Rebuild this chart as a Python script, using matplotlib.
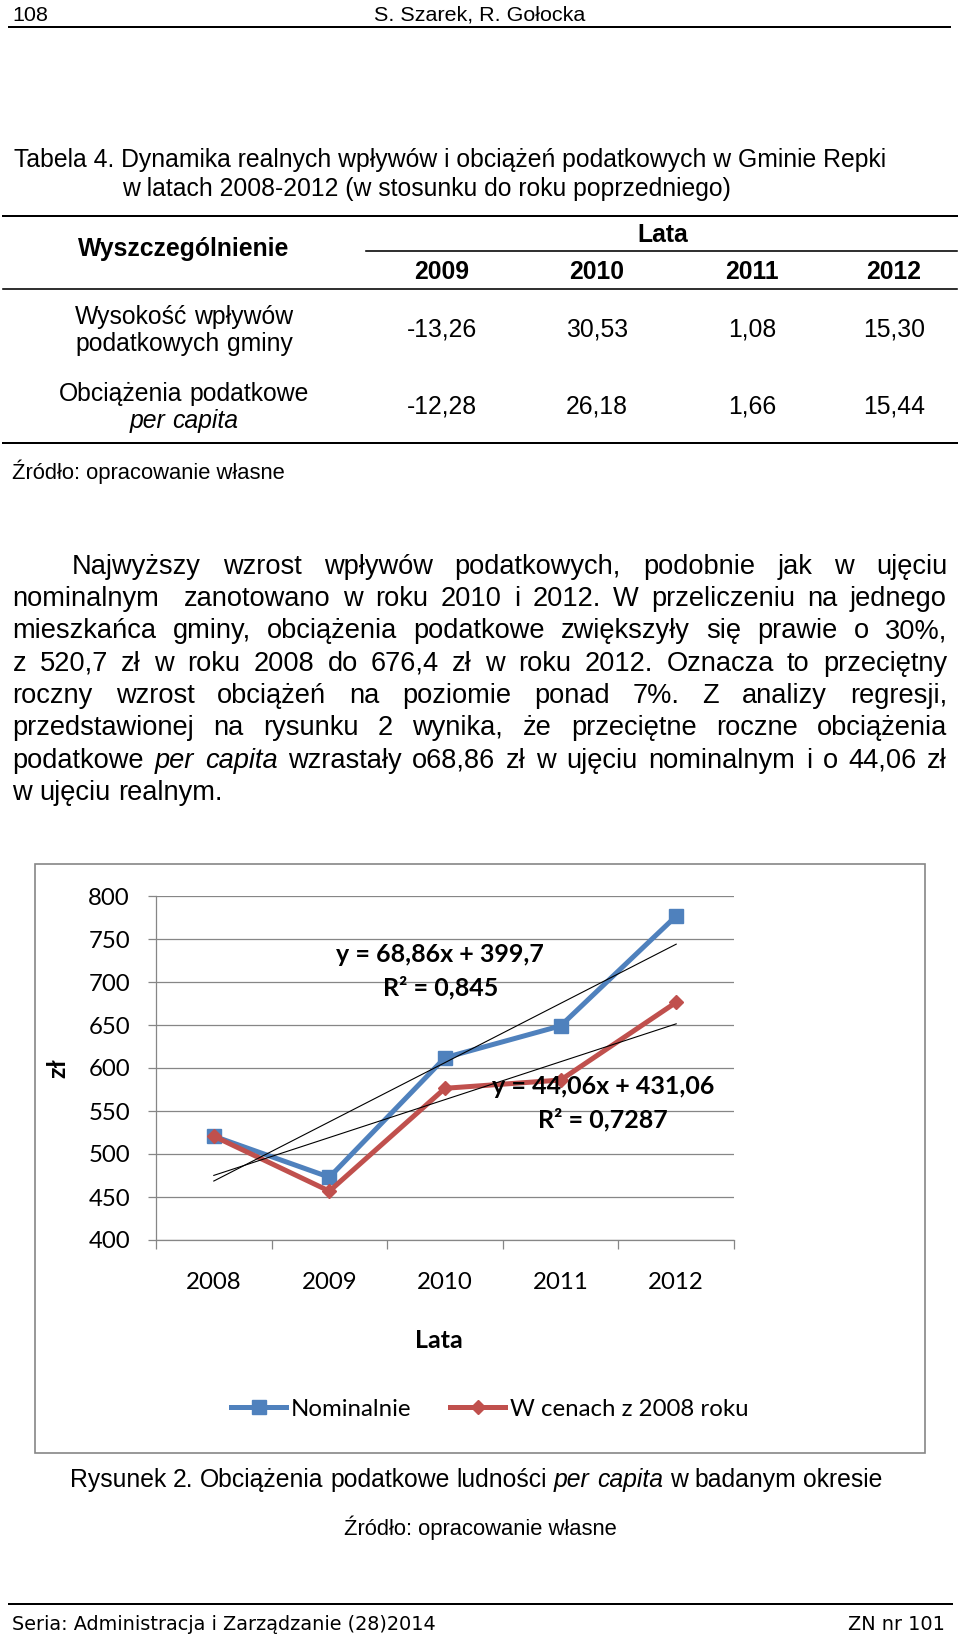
#Recreate page 108 (table 4, paragraph and figure 2) as one matplotlib figure

#import the libraries
import numpy as np
import matplotlib
matplotlib.use('Agg')
import matplotlib.pyplot as plt
from matplotlib.lines import Line2D
from matplotlib.patches import Rectangle
from matplotlib.textpath import TextPath
from matplotlib.font_manager import FontProperties

plt.rcParams['font.family'] = ['Liberation Sans', 'DejaVu Sans']

#chart data (zł per capita)
years = ['2008', '2009', '2010', '2011', '2012']
nominal = [520.7, 473.0, 612.0, 649.0, 776.7]
real = [520.7, 456.8, 576.4, 586.0, 676.4]
#trend coefficients as printed on the chart (slope, intercept)
nominal_trend = (68.86, 399.7)
real_trend = (44.06, 431.06)
nominal_eq = ['y = 68,86x + 399,7', 'R² = 0,845']
real_eq = ['y = 44,06x + 431,06', 'R² = 0,7287']

#table data
table_years = ['2009', '2010', '2011', '2012']
row_labels = [['Wysokość wpływów', 'podatkowych gminy'],
              ['Obciążenia podatkowe', '_per_ _capita_']]
row_income = ['-13,26', '30,53', '1,08', '15,30']
row_burden = ['-12,28', '26,18', '1,66', '15,44']

#body text, _word_ means italic
paragraph = [
    'Najwyższy wzrost wpływów podatkowych, podobnie jak w ujęciu',
    'nominalnym  zanotowano w roku 2010 i 2012. W przeliczeniu na jednego',
    'mieszkańca gminy, obciążenia podatkowe zwiększyły się prawie o 30%,',
    'z 520,7 zł w roku 2008 do 676,4 zł w roku 2012. Oznacza to przeciętny',
    'roczny wzrost obciążeń na poziomie ponad 7%. Z analizy regresji,',
    'przedstawionej na rysunku 2 wynika, że przeciętne roczne obciążenia',
    'podatkowe _per_ _capita_ wzrastały o68,86 zł w ujęciu nominalnym i o 44,06 zł',
    'w ujęciu realnym.',
]

W, H = 960, 1635
fig = plt.figure(figsize=(9.6, 16.35), dpi=100)
renderer = fig.canvas.get_renderer()

def fx(x):
    return x / W

def fy(y):
    return 1 - y / H

def pt(px):
    return px * 0.72

#y is the middle of the capital letters, in pixels from the top
def put(x, y, s, px, ha='left', **kw):
    return fig.text(fx(x), fy(y + 0.36 * px), s, fontsize=pt(px), ha=ha, va='baseline', **kw)

def hline(y, x0, x1, lw=2.0, color='black'):
    fig.add_artist(Line2D([fx(x0), fx(x1)], [fy(y), fy(y)], transform=fig.transFigure,
                          lw=pt(lw), color=color))

#lay out one line word by word (left, justify or center)
def words_line(line, y, x0, x1, px, mode='left'):
    toks = line.split(' ')
    texts = []
    for tok in toks:
        italic = tok.startswith('_')
        texts.append(put(0, y, tok.strip('_'), px, style='italic' if italic else 'normal'))
    widths = [t.get_window_extent(renderer).width if t.get_text() else 0 for t in texts]
    gap = 0.278 * px
    if mode == 'justify':
        gap = (x1 - x0 - sum(widths)) / (len(toks) - 1)
    total = sum(widths) + gap * (len(toks) - 1)
    x = x0 - total / 2 if mode == 'center' else x0
    for t, w in zip(texts, widths):
        t.set_x(fx(x))
        x += w + gap

def fit_px(s, width, family):
    w = TextPath((0, 0), s, size=100, prop=FontProperties(family=family)).get_extents().width
    return 100 * width / w

#page header
put(12, 13, '108', 21.5)
put(480, 13, 'S. Szarek, R. Gołocka', 21.5, ha='center')
hline(27, 9, 950)

#table
small = 24.7
put(13.5, 158, 'Tabela 4. Dynamika realnych wpływów i obciążeń podatkowych w Gminie Repki', small)
put(122, 187, 'w latach 2008-2012 (w stosunku do roku poprzedniego)', small)
hline(216, 3, 957)
put(663, 233, 'Lata', small, ha='center', weight='bold')
hline(251, 366, 957, lw=1.6)
put(184, 247, 'Wyszczególnienie', small, ha='center', weight='bold')
col_x = [442, 597, 752, 894]
for cx, yr in zip(col_x, table_years):
    put(cx, 270, yr, small, ha='center', weight='bold')
hline(289, 3, 957, lw=1.6)
for (l1, l2), ly, vals in zip(row_labels, [315, 392], [row_income, row_burden]):
    words_line(l1, ly, 184, None, small, 'center')
    words_line(l2, ly + 27, 184, None, small, 'center')
    for cx, v in zip(col_x, vals):
        put(cx, ly + 13, v, small, ha='center')
hline(443, 3, 957)
put(12, 471, 'Źródło: opracowanie własne', 22)

#body paragraph
body = 27.3
for i, line in enumerate(paragraph):
    y = 564 + 32.3 * i
    x0 = 72 if i == 0 else 12.5
    if i == len(paragraph) - 1:
        words_line(line, y, x0, 947, body, 'left')
    else:
        words_line(line, y, x0, 947, body, 'justify')

#chart frame
fig.add_artist(Rectangle((fx(35), fy(1453)), (925 - 35) / W, (1453 - 864) / H,
                         transform=fig.transFigure, fill=False, edgecolor='#868686', lw=1.2))

ax = fig.add_axes([fx(156), fy(1240), 578 / W, 344 / H])
x = np.arange(1, len(years) + 1)
ax.plot(x, nominal, color='#4F81BD', lw=3.6, marker='s', ms=10.5, label='Nominalnie', zorder=3)
ax.plot(x, real, color='#C0504D', lw=3.6, marker='D', ms=7, label='W cenach z 2008 roku', zorder=4)
xt = np.array([x[0], x[-1]])
for a, b in (nominal_trend, real_trend):
    ax.plot(xt, a * xt + b, color='black', lw=0.8, zorder=5)

chart_font = 'Lato'
ax.text(2.96, 732, nominal_eq[0], ha='center', va='center', family=chart_font,
        weight='bold', fontsize=pt(25), zorder=6)
ax.text(2.96, 694, nominal_eq[1], ha='center', va='center', family=chart_font,
        weight='bold', fontsize=pt(25), zorder=6)
ax.text(4.37, 578, real_eq[0], ha='center', va='center', family=chart_font,
        weight='bold', fontsize=pt(25), zorder=6)
ax.text(4.37, 540, real_eq[1], ha='center', va='center', family=chart_font,
        weight='bold', fontsize=pt(25), zorder=6)

ax.set_xlim(0.5, 5.5)
ax.set_ylim(400, 800)
ax.set_yticks(np.arange(400, 801, 50))
ax.yaxis.grid(True, color='#868686', lw=0.9)
ax.set_axisbelow(True)
ax.set_xticks(np.arange(0.5, 5.6, 1))
ax.set_xticklabels([])
ax.set_xticks(x, minor=True)
ax.set_xticklabels(years, minor=True)
ax.tick_params(axis='x', which='major', length=pt(9), color='#868686', width=0.9)
ax.tick_params(axis='x', which='minor', length=0, pad=23)
ax.tick_params(axis='y', length=pt(8), color='#868686', width=0.9, pad=13)
for s in ['top', 'right']:
    ax.spines[s].set_visible(False)
for s in ['left', 'bottom']:
    ax.spines[s].set_color('#868686')
    ax.spines[s].set_linewidth(0.9)
for lab in ax.get_xticklabels(minor=True) + ax.get_yticklabels():
    lab.set_fontfamily(chart_font)
    lab.set_fontsize(pt(24))

ax.set_xlabel('Lata', family=chart_font, weight='bold', fontsize=pt(25), va='center')
ax.xaxis.set_label_coords((439 - 156) / 578, -(1341 - 1240) / 344)
ax.set_ylabel('zł', family=chart_font, weight='bold', fontsize=pt(25), va='center')
ax.yaxis.set_label_coords((58 - 156) / 578, 0.5)

ax.legend(loc='center', bbox_to_anchor=(fx(490), fy(1409)), bbox_transform=fig.transFigure,
          ncol=2, frameon=False, numpoints=1, handlelength=2.3, handletextpad=0.2,
          columnspacing=1.6, prop=FontProperties(family=chart_font, size=pt(24)))

#caption and source
words_line('Rysunek 2. Obciążenia podatkowe ludności _per_ _capita_ w badanym okresie',
           1478, 476, None, small, 'center')
put(480, 1527, 'Źródło: opracowanie własne', 22, ha='center')

#page footer
hline(1604, 9, 952)
foot = 'Seria: Administracja i Zarządzanie (28)2014'
fpx = fit_px(foot, 423, 'DejaVu Sans')
put(12, 1623, foot, fpx, family='DejaVu Sans')
put(945, 1623, 'ZN nr 101', fpx, ha='right', family='DejaVu Sans')

fig.savefig('out.png', dpi=100)
